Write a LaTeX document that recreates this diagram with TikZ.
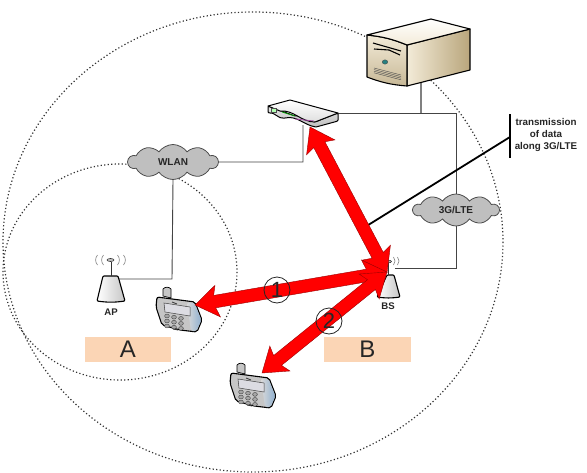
\documentclass[tikz,border=0pt]{standalone}
\usepackage{fontspec}
\setmainfont{Liberation Sans}
\usetikzlibrary{calc,shapes.symbols}
\definecolor{peach}{HTML}{FBD5B5}
\definecolor{cloudgray}{HTML}{BFBFBF}
\definecolor{wire}{HTML}{444444}
\definecolor{tanlight}{HTML}{F3EBD8}
\definecolor{tandark}{HTML}{B9A67C}
\definecolor{phoneblue}{HTML}{8FB0D0}
\tikzset{
  dotline/.style={line width=1.2pt,dash pattern=on 1.2pt off 2.3pt,black!80},
  wireline/.style={wire,line width=.9pt},
  cloudnode/.style={cloud,cloud puffs=10,cloud puff arc=110,aspect=2.6,draw=black!70,fill=cloudgray,line width=.8pt,inner sep=0pt,font=\bfseries\fontsize{10}{11}\selectfont,text=black!85},
  smalllabel/.style={font=\bfseries\fontsize{9.6}{11}\selectfont,text=black!85,inner sep=0pt},
  zonebox/.style={fill=peach,inner sep=0pt,font=\fontsize{24}{26}\selectfont,text=black!85},
  numcircle/.style={circle,draw=black!85,line width=.8pt,minimum size=26pt,inner sep=0pt,font=\fontsize{22}{23}\selectfont,text=black!85},
  redarrow/.style={fill=red,draw=red!60!black,line width=.4pt,line join=miter},
  pics/phone/.style={code={
    \fill[gray!45,draw=black,line width=.7pt] (7,9) -- (7,2) to[bend left=50] (15,2) -- (15,11) -- cycle;
    \path[fill=gray!45,draw=black,line width=1.1pt,rounded corners=2pt]
      (1,10) -- (39,15) -- (46,33) -- (41,45) -- (24,43) -- (6,38) -- (0,20) -- cycle;
    \path[left color=gray!30,right color=phoneblue,rounded corners=2pt]
      (31,15.5) -- (38.5,16) -- (45.3,33) -- (40.5,44) -- (35,44) -- cycle;
    \fill[blue!10!gray!25,draw=black!75,line width=.5pt] (8,16) -- (34,20) -- (34,29) -- (9,25) -- cycle;
    \foreach \i in {0,1,2}{\foreach \j in {0,1,2}{
      \fill[gray!70,draw=black!75,line width=.4pt] (11+7*\i,29+5*\j+1.2*\i) ellipse (2.4 and 1.9);}}
    \draw[black!80,line width=.8pt] (16,15) -- (21,17);
    \draw[black!80,line width=.8pt] (17,42) -- (22,43);
  }}
}
\newcommand{\fatarrow}[2]{%
  \path[redarrow]
    (#1)
    -- ($(#1)!23pt!(#2)!16pt!90:(#2)$)
    -- ($(#1)!20pt!(#2)!6.3pt!90:(#2)$)
    -- ($(#2)!20pt!(#1)!6.3pt!-90:(#1)$)
    -- ($(#2)!23pt!(#1)!16pt!-90:(#1)$)
    -- (#2)
    -- ($(#2)!23pt!(#1)!16pt!90:(#1)$)
    -- ($(#2)!20pt!(#1)!6.3pt!90:(#1)$)
    -- ($(#1)!20pt!(#2)!6.3pt!-90:(#2)$)
    -- ($(#1)!23pt!(#2)!16pt!-90:(#2)$)
    -- cycle;}
\begin{document}
\begin{tikzpicture}[x=1pt,y=-1pt]
\useasboundingbox (0,0) rectangle (587,472);
% coverage circles
\draw[dotline] (253,242) ellipse (250 and 230);
\draw[dotline] (120,272) ellipse (117 and 108);

% named anchors
\coordinate (serverbase) at (421,83);
\coordinate (routerright) at (338,113);
\coordinate (routerbase) at (303,125);
\coordinate (apfeed) at (118,279);
\coordinate (bsfeed) at (395,268);
\coordinate (bendA) at (421,113);
\coordinate (bendB) at (456,113);
\coordinate (bendC) at (303,162);
\coordinate (bendD) at (172,279);
\coordinate (bendE) at (456,268);
\coordinate (barmid) at (510,137);
\coordinate (barup) at (510,114);
\coordinate (bardown) at (510,158);
\coordinate (linestart) at (365,227);

% clouds
\node[cloudnode,minimum width=90pt,minimum height=35pt] (wlan) at (173,162) {WLAN};
\node[cloudnode,minimum width=86pt,minimum height=32pt] (lte) at (456,210) {3G/LTE};

% wires
\draw[wireline] (routerright) -- (bendB) -- (lte.north);
\draw[gray,line width=1.2pt] (serverbase) -- (bendA);
\draw[wireline] (lte.south) -- (bendE) -- (bsfeed);
\draw[wireline] (wlan.east) -- (bendC) -- (routerbase);
\draw[wireline] (wlan.south) -- (bendD) -- (apfeed);

% callout
\draw[black,line width=1.8pt] (linestart) -- (barmid);
\draw[black,line width=2pt] (barup) -- (bardown);
\node[smalllabel,align=center,font=\bfseries\fontsize{9.8}{12}\selectfont] (calloutlabel) at (546,135) {transmission\\of data\\along 3G/LTE};

% server
\path[left color=tanlight,right color=tandark,draw=black,line width=1.1pt,line join=round] (407,45) -- (470,29) -- (470,70) -- (407,86) -- cycle;
\path[top color=tanlight,bottom color=tandark!80,draw=black,line width=1.1pt,line join=round] (367,35) to[bend left=8] (407,45) -- (407,86) to[bend left=8] (367,77) -- cycle;
\path[top color=white,bottom color=tanlight,draw=black,line width=1.1pt,line join=round] (367,35) -- (431,19) -- (470,29) -- (407,45) to[bend right=8] cycle;
\draw[black,line width=1.1pt] (373,43) -- (401,51);
\draw[black,line width=1.1pt] (374,49) -- (389,50) -- (400,55);
\fill[teal!70!gray,draw=black!70,line width=.3pt] (385,62) ellipse (2.8 and 2.2);
\foreach \k in {0,1.6,3.2,4.8}{\draw[black!70,line width=.4pt] (374,68+\k) -- (401,75+\k);}
\node[inner sep=0pt] (server) at (418,52) {};

% router
\path[top color=gray!20,bottom color=gray!50,draw=black,line width=1pt,line join=round,rounded corners=1pt]
  (268,106) -- (268,113) to[out=10,in=190] (285,118) to[out=10,in=170] (316,127) -- (338,121) -- (338,113) -- (315,122) to[out=170,in=10] (295,116) -- cycle;
\path[top color=white,bottom color=gray!25,draw=black,line width=1pt,line join=round]
  (268,106) -- (290,100) -- (338,113) -- (315,122) to[out=180,in=5] (280,111) -- cycle;
\draw[green!60!black,line width=.8pt] (282,112) -- (295,116);
\draw[violet!70,line width=.8pt] (295,119) -- (314,121);
\draw[black!70,line width=.4pt,fill=green!30] (271,108) rectangle (276,112);
\node[inner sep=0pt] (router) at (303,112) {};

% AP
\path[left color=white,right color=gray!45,draw=black,line width=1.1pt,line join=round,rounded corners=1pt] (103,276) -- (118,276) -- (125,301) to[bend left=8] (97,301) -- cycle;
\draw[black!80,line width=1pt] (111,262) -- (111,276);
\draw[black!80,fill=gray!50,line width=.6pt] (110.5,260) ellipse (3.5 and 1.5);
\foreach \r in {6,12}{
  \draw[gray,line width=.6pt] ($(110.5,260)+(\r+1,-5)$) to[bend left=40] ($(110.5,260)+(\r+1,5)$);
  \draw[gray,line width=.6pt] ($(110.5,260)+(-\r-1,5)$) to[bend left=40] ($(110.5,260)+(-\r-1,-5)$);
}
\node[smalllabel] (ap) at (111,312) {AP};

% BS
\path[left color=white,right color=gray!45,draw=black,line width=1.1pt,line join=round,rounded corners=1pt] (387,275) -- (394,275) -- (400,297) to[bend left=8] (377,297) -- cycle;
\draw[black!80,line width=1pt] (388,262) -- (388,275);
\draw[black!80,fill=gray!50,line width=.6pt] (388.5,261.5) ellipse (3 and 1.3);
\foreach \r in {5,9}{
  \draw[gray,line width=.6pt] ($(388.5,261)+(\r,-4)$) to[bend left=40] ($(388.5,261)+(\r,4)$);
}
\node[smalllabel] (bs) at (388,306) {BS};

% phones
\pic (phoneA) at (156,287) {phone};
\pic (phoneB) at (230,363) {phone};

% zones
\node[zonebox,minimum width=86pt,minimum height=25pt] (zoneA) at (128,349.5) {A};
\node[zonebox,minimum width=87pt,minimum height=25pt] (zoneB) at (367.5,349.5) {B};

% red arrows
\coordinate (tipR) at (310,127);
\coordinate (tipBSa) at (387,273);
\coordinate (tipBSb) at (387,272);
\coordinate (tipBSc) at (387,272);
\coordinate (tipA) at (195,305);
\coordinate (tipB) at (262,373);
\fatarrow{tipR}{tipBSa}
\fatarrow{tipA}{tipBSb}
\fatarrow{tipB}{tipBSc}

% numbers
\node[numcircle] (n1) at (277,290) {1};
\node[numcircle] (n2) at (329,321) {2};
\end{tikzpicture}
\end{document}
